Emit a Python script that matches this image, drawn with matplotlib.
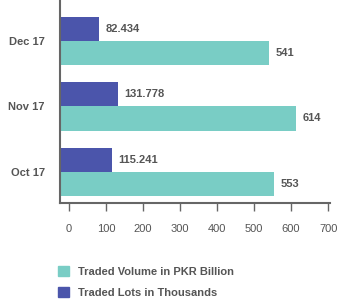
import matplotlib
matplotlib.use("Agg")
import matplotlib.pyplot as plt
from matplotlib.patches import Patch

months = ["Oct 17", "Nov 17", "Dec 17"]
volume_pkr_bn = [553, 614, 541]
lots_thousands = [115.241, 131.778, 82.434]
volume_labels = ["553", "614", "541"]
lots_labels = ["115.241", "131.778", "82.434"]
xticks = [0, 100, 200, 300, 400, 500, 600, 700]

teal = "#79cdc5"
navy = "#4b55ab"
txt = "#555555"

plt.rcParams['font.family'] = ['Liberation Sans', 'DejaVu Sans']

fig = plt.figure(figsize=(3.4, 2.99), dpi=100)
ax = fig.add_axes([60/340, 1 - 203/299, 270/340, 203/299])

xmin, xmax = -24, 705
h = 0.37
pad = -xmin
for i, (v, l) in enumerate(zip(volume_pkr_bn, lots_thousands)):
    ax.barh(i + h/2, l + pad, left=xmin, height=h, color=navy)
    ax.barh(i - h/2, v + pad, left=xmin, height=h, color=teal)
    ax.text(l + 18, i + h/2, lots_labels[i], va='center', ha='left',
            fontsize=8, fontweight='bold', color=txt)
    ax.text(v + 18, i - h/2, volume_labels[i], va='center', ha='left',
            fontsize=8, fontweight='bold', color=txt)

ax.set_xlim(xmin, xmax)
ax.set_ylim(-0.48, 2.63)
ax.set_yticks(range(len(months)))
ax.set_yticklabels(months, fontsize=8, fontweight='bold', color=txt)
ax.set_xticks(xticks)
ax.set_xticklabels([str(t) for t in xticks], fontsize=8, color=txt)
ax.tick_params(axis='y', length=0, pad=11)
ax.tick_params(axis='x', length=6, width=1, color='#666666', pad=9, direction='out')
for s in ['top', 'right']:
    ax.spines[s].set_visible(False)
for s in ['left', 'bottom']:
    ax.spines[s].set_color('#666666')
    ax.spines[s].set_linewidth(1.5)

handles = [Patch(color=teal, label="Traded Volume in PKR Billion"),
           Patch(color=navy, label="Traded Lots in Thousands")]
leg = fig.legend(handles=handles, loc='upper left', bbox_to_anchor=(48/340, 1 - 256/299),
                 frameon=False, prop={'size': 8, 'weight': 'bold'},
                 handlelength=1.0, handleheight=1.0, handletextpad=0.8, labelspacing=0.9)
for t in leg.get_texts():
    t.set_color(txt)

fig.savefig("out.png", dpi=100)
